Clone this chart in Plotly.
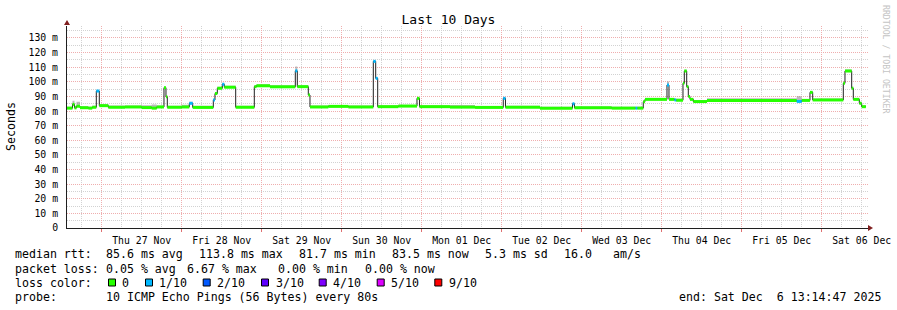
import plotly.graph_objects as go

# ---------------- data ----------------
times = [
    "2025-11-26 13:35", "2025-11-26 15:14", "2025-11-26 15:50", "2025-11-26 16:26",
    "2025-11-26 17:29", "2025-11-26 20:00", "2025-11-26 21:10", "2025-11-26 22:23",
    "2025-11-26 23:17", "2025-11-27 01:59", "2025-11-27 07:00", "2025-11-27 12:00",
    "2025-11-27 15:00", "2025-11-27 16:30", "2025-11-27 18:41", "2025-11-27 19:17",
    "2025-11-27 19:41", "2025-11-28 00:00", "2025-11-28 02:17", "2025-11-28 03:18",
    "2025-11-28 09:29", "2025-11-28 09:59", "2025-11-28 10:41", "2025-11-28 12:11",
    "2025-11-28 12:47", "2025-11-28 16:12", "2025-11-28 21:47", "2025-11-28 22:26",
    "2025-11-29 02:29", "2025-11-29 10:05", "2025-11-29 10:41", "2025-11-29 13:59",
    "2025-11-29 14:29", "2025-11-29 20:00", "2025-11-30 02:00", "2025-11-30 09:29",
    "2025-11-30 10:12", "2025-11-30 10:48", "2025-11-30 17:00", "2025-11-30 22:35",
    "2025-11-30 23:20", "2025-12-01 08:29", "2025-12-01 16:00", "2025-12-02 00:28",
    "2025-12-02 01:08", "2025-12-02 11:29", "2025-12-02 21:14", "2025-12-02 21:50",
    "2025-12-03 09:00", "2025-12-03 16:10", "2025-12-03 16:40", "2025-12-03 18:28",
    "2025-12-03 18:59", "2025-12-04 01:35", "2025-12-04 02:11", "2025-12-04 03:50",
    "2025-12-04 04:20", "2025-12-04 06:23", "2025-12-04 06:47", "2025-12-04 07:30",
    "2025-12-04 07:59", "2025-12-04 08:29", "2025-12-04 09:29", "2025-12-04 13:35",
    "2025-12-05 16:30", "2025-12-05 18:00", "2025-12-05 20:29", "2025-12-05 21:18",
    "2025-12-06 06:29", "2025-12-06 06:59", "2025-12-06 09:00", "2025-12-06 09:29",
    "2025-12-06 11:17", "2025-12-06 12:00",
]
median_ms = [
    82.0, 84.6, 82.2, 83.3,
    82.3, 82.0, 82.6, 93.7,
    83.7, 82.6, 82.8, 82.4,
    82.0, 82.8, 96.0, 89.8,
    82.6, 82.8, 85.3, 82.5,
    87.6, 92.0, 95.6, 98.3,
    96.3, 82.6, 96.7, 97.3,
    96.6, 107.5, 96.7, 91.0,
    82.8, 83.2, 82.8, 114.0,
    102.4, 83.0, 83.4, 88.7,
    83.0, 82.7, 82.5, 88.7,
    82.6, 82.0, 85.0, 82.2,
    82.0, 82.0, 82.0, 86.4,
    88.0, 97.8, 88.0, 87.6,
    87.4, 99.0, 107.4, 96.7,
    90.0, 88.0, 86.5, 87.2,
    86.6, 87.3, 92.8, 87.6,
    99.0, 107.4, 95.6, 88.0,
    85.3, 83.0,
]
# packet loss per step, as index into loss_colors (0 = no loss, 1 = 1/10)
loss_idx = [
    0, 0, 0, 0,
    0, 0, 0, 1,
    0, 0, 0, 0,
    0, 0, 0, 0,
    0, 0, 1, 0,
    1, 0, 0, 1,
    0, 0, 0, 0,
    0, 1, 0, 0,
    0, 0, 0, 1,
    1, 0, 0, 0,
    0, 0, 0, 1,
    0, 0, 1, 0,
    0, 1, 0, 0,
    0, 1, 0, 1,
    0, 0, 0, 0,
    0, 0, 0, 0,
    1, 0, 0, 0,
    0, 0, 0, 0,
    0, 0,
]
# height of the grey "smoke" above the median (ms)
smoke_ms = [
    1.0, 2.5, 1.5, 3.0,
    1.0, 1.0, 1.0, 0.5,
    1.0, 1.2, 1.0, 1.5,
    2.5, 1.0, 0.5, 0.5,
    1.0, 1.5, 1.0, 1.2,
    1.0, 1.0, 1.0, 1.0,
    1.0, 1.0, 1.0, 1.0,
    1.0, 3.0, 1.0, 1.0,
    1.0, 1.0, 1.0, 0.5,
    0.5, 1.0, 1.0, 0.5,
    1.0, 1.5, 1.0, 1.0,
    1.0, 1.0, 0.5, 1.0,
    1.0, 1.0, 1.0, 1.0,
    1.0, 2.5, 1.0, 1.0,
    1.0, 1.0, 0.8, 1.0,
    1.0, 1.0, 1.0, 1.5,
    3.5, 1.0, 0.5, 1.0,
    1.0, 1.0, 1.0, 1.0,
    1.0, 1.0,
]
end_time = "2025-12-06 13:14:47"

x_range = ["2025-11-26 13:35:24", "2025-12-06 13:53:24"]
y_max = 138.2
y_ticks = list(range(0, 131, 10))
y_ticktext = ["0"] + [f"{v} m" for v in y_ticks[1:]]
y_minor = list(range(5, 136, 10))

day_midnights = ["2025-11-27", "2025-11-28", "2025-11-29", "2025-11-30", "2025-12-01",
                 "2025-12-02", "2025-12-03", "2025-12-04", "2025-12-05", "2025-12-06"]
day_labels = ["Thu 27 Nov", "Fri 28 Nov", "Sat 29 Nov", "Sun 30 Nov", "Mon 01 Dec",
              "Tue 02 Dec", "Wed 03 Dec", "Thu 04 Dec", "Fri 05 Dec", "Sat 06 Dec"]

loss_labels = ["0", "1/10", "2/10", "3/10", "4/10", "5/10", "9/10"]
loss_colors = ["#26ff00", "#00b8ff", "#0059ff", "#5e00ff", "#7e00ff", "#dd00ff", "#ff0000"]

rtt_items = ["median rtt:", "85.6 ms avg", "113.8 ms max", "81.7 ms min", "83.5 ms now",
             "5.3 ms sd", "16.0", "am/s"]
loss_items = ["packet loss:", "0.05 % avg", "6.67 % max", "0.00 % min", "0.00 % now"]
probe_items = ["probe:", "10 ICMP Echo Pings (56 Bytes) every 80s"]
end_text = "end: Sat Dec  6 13:14:47 2025"
title_text = "Last 10 Days"
ylabel_text = "Seconds"
watermark = "RRDTOOL / TOBI OETIKER"

# ---------------- layout geometry ----------------
W, H = 897, 310
L, R, T, B = 67, 29, 26, 82
PW, PH = W - L - R, H - T - B
MONO = "DejaVu Sans Mono"
FS = 11.6      # legend font
AFS = 9.8      # axis font


def px_x(px):
    return (px - L) / PW


def px_y(py):
    return (H - B - py) / PH


def nb(s):
    return s.replace(" ", "\u00a0")


fig = go.Figure()

t_all = times + [end_time]
v_all = median_ms + [median_ms[-1]]
s_all = smoke_ms + [smoke_ms[-1]]

# smoke band
fig.add_trace(go.Scatter(x=t_all, y=[v - 0.4 for v in v_all], mode="lines",
                         line=dict(width=0, shape="hv"), hoverinfo="skip", showlegend=False))
fig.add_trace(go.Scatter(x=t_all, y=[v + s for v, s in zip(v_all, s_all)], mode="lines",
                         line=dict(width=0, shape="hv"), fill="tonexty",
                         fillcolor="rgba(140,140,140,0.6)", hoverinfo="skip", showlegend=False))

# thin dark median step line
fig.add_trace(go.Scatter(x=t_all, y=v_all, mode="lines",
                         line=dict(width=1, color="#202020", shape="hv"),
                         hoverinfo="skip", showlegend=False))

# thick loss-coloured median segments
for ci, col in enumerate(loss_colors):
    xs, ys = [], []
    for i in range(len(times)):
        if loss_idx[i] == ci:
            xs += [t_all[i], t_all[i + 1], None]
            ys += [v_all[i], v_all[i], None]
    if xs:
        fig.add_trace(go.Scatter(x=xs, y=ys, mode="lines",
                                 line=dict(width=3, color=col),
                                 hoverinfo="skip", showlegend=False))

GRID_MAJ = "#efaeae"
GRID_MIN = "#d2d2d2"
DASH = "1px,1px"
AXIS = "#1f1f1f"

fig.update_layout(
    template="none",
    width=W, height=H,
    margin=dict(l=L, r=R, t=T, b=B, pad=0, autoexpand=False),
    paper_bgcolor="white", plot_bgcolor="white",
    showlegend=False,
    font=dict(family=MONO, size=FS, color="black"),
    title=dict(text=title_text, x=0.5, xref="container", xanchor="center",
               y=1 - 19 / H, yref="container", yanchor="middle",
               font=dict(family=MONO, size=13, color="black")),
    xaxis=dict(
        type="date", range=x_range, fixedrange=True, automargin=False,
        tickmode="array", tickvals=day_midnights, ticktext=[nb(s) for s in day_labels],
        ticklabelshift=40, ticklabeloverflow="allow",
        ticks="outside", ticklen=3, tickcolor="#e07070", tickwidth=1,
        tickfont=dict(family=MONO, size=AFS, color="black"),
        showgrid=True, gridcolor=GRID_MAJ, griddash=DASH, gridwidth=1,
        minor=dict(dtick=6 * 3600 * 1000, tick0="2025-11-27", showgrid=True,
                   gridcolor=GRID_MIN, griddash=DASH, gridwidth=1, ticks=""),
        showline=True, linecolor=AXIS, linewidth=1, zeroline=False,
    ),
    yaxis=dict(
        range=[0, y_max], fixedrange=True, automargin=False,
        tickmode="array", tickvals=y_ticks, ticktext=[nb(s) for s in y_ticktext],
        ticks="outside", ticklen=3, tickcolor="rgba(0,0,0,0)",
        ticklabelstandoff=3,
        tickfont=dict(family=MONO, size=AFS, color="black"),
        showgrid=True, gridcolor=GRID_MAJ, griddash=DASH, gridwidth=1,
        minor=dict(tickvals=y_minor, showgrid=True, gridcolor=GRID_MIN,
                   griddash=DASH, gridwidth=1, ticks=""),
        showline=True, linecolor=AXIS, linewidth=1, zeroline=False,
    ),
)

ann = []
# y axis label
ann.append(dict(text=ylabel_text, x=px_x(11), y=px_y(127), xref="paper", yref="paper",
                textangle=-90, showarrow=False, xanchor="center", yanchor="middle",
                font=dict(family=MONO, size=FS, color="black")))
# watermark
ann.append(dict(text=nb(watermark), x=px_x(886), y=px_y(59), xref="paper", yref="paper",
                textangle=90, showarrow=False, xanchor="center", yanchor="middle",
                font=dict(family=MONO, size=8.2, color="#c4c4c4")))


def text_at(s, px, py, anchor="left"):
    shift = -2 if anchor == "left" else 2
    ann.append(dict(text=nb(s), x=px_x(px + shift), y=px_y(py), xref="paper", yref="paper",
                    showarrow=False, xanchor=anchor, yanchor="middle", borderpad=0,
                    font=dict(family=MONO, size=FS, color="black")))


rtt_x = [16, 107.3, 200, 300, 393.3, 485.7, 565, 614]
for s, px in zip(rtt_items, rtt_x):
    text_at(s, px, 254.5)
loss_x = [16, 107.3, 188.3, 279.3, 365.7]
for s, px in zip(loss_items, loss_x):
    text_at(s, px, 268.5)
text_at("loss color:", 16, 282.5)
box_cx = [112, 149, 206.7, 265, 322.7, 380.7, 438.3]
lab_x = [123, 160, 218, 276.7, 334, 392, 450]
shapes = []
for lab, col, cx, lx in zip(loss_labels, loss_colors, box_cx, lab_x):
    shapes.append(dict(type="rect", xref="paper", yref="paper",
                       x0=px_x(cx - 3.5), x1=px_x(cx + 3.5),
                       y0=px_y(286), y1=px_y(279),
                       fillcolor=col, line=dict(color="black", width=1)))
    text_at(lab, lx, 282.5)
text_at(probe_items[0], 16, 296.5)
text_at(probe_items[1], 107, 296.5)
text_at(end_text, 880, 296.5, anchor="right")

# axis arrows
ARROW = "#801f1f"
shapes.append(dict(type="path", xref="paper", yref="paper", xsizemode="pixel", ysizemode="pixel",
                   xanchor=0, yanchor=1, path="M -3,1 L 3,1 L 0,6 Z",
                   fillcolor=ARROW, line=dict(width=0)))
shapes.append(dict(type="path", xref="paper", yref="paper", xsizemode="pixel", ysizemode="pixel",
                   xanchor=1, yanchor=0, path="M 0,-3 L 0,3 L 5,0 Z",
                   fillcolor=ARROW, line=dict(width=0)))

fig.update_layout(annotations=ann, shapes=shapes)

fig.write_html("out.html")
